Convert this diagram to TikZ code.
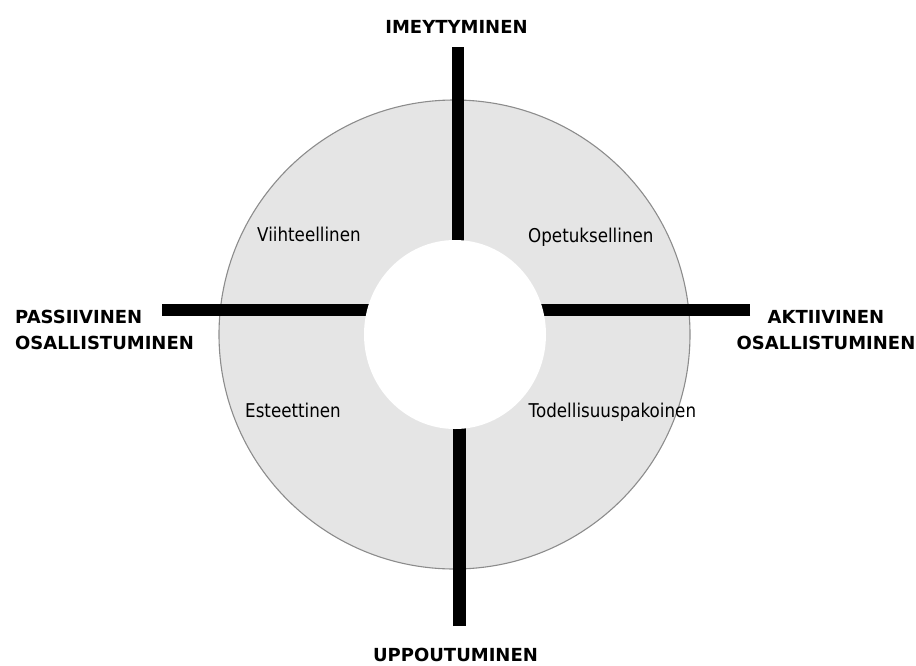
\documentclass[tikz,border=0pt]{standalone}
\usepackage{fontspec}
\setmainfont{DejaVu Sans}
\newfontfamily\quadfont[FakeStretch=0.88]{DejaVu Sans}
\begin{document}
\begin{tikzpicture}[x=1pt,y=-1pt,
  ring/.style={draw=black!45, line width=1.1pt, fill=black!10},
  hole/.style={fill=white, draw=none},
  axisbar/.style={line width=12.5pt, black},
  axislabel/.style={font=\fontsize{18}{26}\selectfont\bfseries, inner sep=0pt},
  quadlabel/.style={font=\quadfont\fontsize{19}{23}\selectfont, inner sep=0pt, anchor=base west}]
  \useasboundingbox (0,0) rectangle (916,665);

  % ring
  \coordinate (c) at (454.5,334.5);
  \draw[ring] (c) circle [x radius=235.5, y radius=234.5];

  % axis end points
  \coordinate (topend) at (458,47);
  \coordinate (topmid) at (458,334.5);
  \coordinate (botend) at (459.5,626);
  \coordinate (botmid) at (459.5,334.5);
  \coordinate (leftend) at (162,310);
  \coordinate (leftmid) at (455,310);
  \coordinate (rightend) at (750,310);
  \coordinate (rightmid) at (455,310);

  \draw[axisbar] (topend) -- (topmid);
  \draw[axisbar] (botend) -- (botmid);
  \draw[axisbar] (leftend) -- (leftmid);
  \draw[axisbar] (rightend) -- (rightmid);

  % inner hole covers the axis ends
  \fill[hole] (455,334.5) circle [x radius=91, y radius=94.5];

  % axis labels (base anchor of a two-line node sits on its last line)
  \node[axislabel, anchor=base] (imey) at (456.5,33) {IMEYTYMINEN};
  \node[axislabel, anchor=base] (uppo) at (455.5,661.5) {UPPOUTUMINEN};
  \node[axislabel, anchor=base west, align=left] (pass) at (15,349) {PASSIIVINEN\\OSALLISTUMINEN};
  \node[axislabel, anchor=base, align=center] (akti) at (826,349) {AKTIIVINEN\\OSALLISTUMINEN};

  % quadrant labels
  \node[quadlabel] (viih) at (257,241) {Viihteellinen};
  \node[quadlabel] (opet) at (528,242) {Opetuksellinen};
  \node[quadlabel] (este) at (245,417.5) {Esteettinen};
  \node[quadlabel] (tode) at (528.5,417.5) {Todellisuuspakoinen};
\end{tikzpicture}
\end{document}
